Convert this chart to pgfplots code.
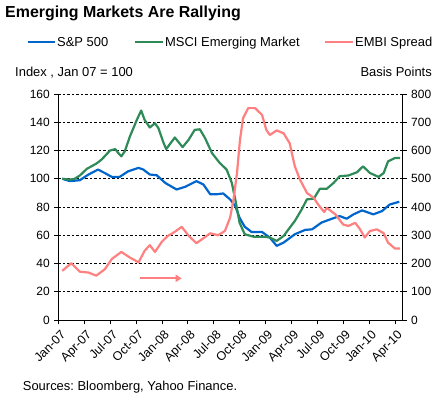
\documentclass[border=0pt]{standalone}
\usepackage{fontspec}
\setmainfont{Liberation Sans}
\usepackage{pgfplots}
\pgfplotsset{compat=1.18}
\usetikzlibrary{arrows.meta}
\definecolor{spblue}{RGB}{0,102,204}
\definecolor{msgreen}{RGB}{46,139,87}
\definecolor{embipink}{RGB}{255,128,128}
\begin{document}
\begin{tikzpicture}[x=1bp,y=1bp]
\useasboundingbox (0,0) rectangle (440,396);
\begin{axis}[
  at={(58.3bp,76bp)}, anchor=south west, scale only axis,
  width=344.4bp, height=226bp,
  xmin=0, xmax=39.9, ymin=0, ymax=160,
  ytick={0,20,...,160},
  xtick={0,3,...,39},
  xticklabels={Jan-07,Apr-07,Jul-07,Oct-07,Jan-08,Apr-08,Jul-08,Oct-08,Jan-09,Apr-09,Jul-09,Oct-09,Jan-10,Apr-10},
  axis x line*=bottom, axis y line*=left,
  ymajorgrids, grid style={black, dash pattern=on 2.5bp off 2bp, line width=0.6bp},
  tick align=outside, major tick length=4bp,
  tick style={black, line width=0.6bp},
  axis line style={black, line width=0.8bp},
  /pgf/number format/assume math mode=true,
  tick label style={font=\fontsize{12}{13}\selectfont},
  y tick label style={xshift=-1bp},
  x tick label style={rotate=45, anchor=north east, inner sep=1bp, xshift=-1.5bp, yshift=-4bp, font=\fontsize{12.5}{13}\selectfont},
  clip=false,
]
\addplot[spblue, line width=2.2bp, line join=round] coordinates {
(0.46,100) (1.35,98.3) (2.5,99) (3.5,103) (4.6,106.5) (5.4,104) (6.2,101.3) (7.1,101.3) (8.1,105.3) (9.3,107.7) (9.85,106.5) (10.6,103) (11.4,102.5) (12.4,97) (13.7,92.4) (14.7,94.3) (16.0,98.3) (16.8,96) (17.6,89) (18.3,89) (19.1,89.6) (19.9,85.4) (20.5,80.7) (21.0,72.4) (21.6,66) (22.4,62.3) (23.6,62.3) (24.5,58.4) (25.3,52.5) (26.1,54.8) (27.4,60.7) (28.6,63.8) (29.4,64.2) (30.5,69) (31.7,71.7) (32.6,73.6) (33.4,71.7) (34.2,74.8) (35.2,77.6) (36.5,74.8) (37.5,77.1) (38.4,81.8) (39.5,83.7)
};
\addplot[msgreen, line width=2.2bp, line join=round] coordinates {
(0.46,100) (1.35,99.4) (1.9,100) (2.5,102.3) (3.3,107) (4.4,110.7) (5.0,113.5) (6.0,120) (6.6,121) (6.95,118.2) (7.3,115.9) (7.7,119.4) (8.3,130) (9.1,141.7) (9.6,148.3) (10.0,141.7) (10.6,136.3) (11.2,139.3) (11.6,135.8) (12.2,125.3) (12.5,121) (13.5,129.2) (14.4,122.4) (15.1,127.6) (15.8,134.6) (16.4,135) (17.0,128.8) (17.8,118.2) (18.7,111.2) (19.5,106.5) (20.1,97.1) (20.5,85.4) (21.0,68.9) (21.6,60.7) (22.6,59) (23.8,59) (24.5,58.4) (25.3,56) (26.1,59.5) (27.4,70.1) (28.2,78.3) (28.8,85.4) (29.6,85.9) (30.3,92.9) (31.1,92.9) (31.9,97.1) (32.6,101.8) (33.6,102.3) (34.6,104.6) (35.3,108.8) (36.1,104.1) (37.1,101.3) (37.7,104.1) (38.2,112.3) (39.0,114.7) (39.6,114.7)
};
\draw[embipink, line width=2.2bp, -{Triangle[length=6bp,width=7bp]}] (axis cs:9.5,29.5) -- (axis cs:14.3,29.5);
\end{axis}
\begin{axis}[
  at={(58.3bp,76bp)}, anchor=south west, scale only axis,
  width=344.4bp, height=226bp,
  xmin=0, xmax=39.9, ymin=0, ymax=800,
  ytick={0,100,...,800},
  axis x line=none, axis y line*=right,
  tick align=outside, major tick length=4bp,
  tick style={black, line width=0.6bp},
  axis line style={black, line width=0.8bp},
  /pgf/number format/assume math mode=true,
  tick label style={font=\fontsize{12}{13}\selectfont},
  y tick label style={xshift=1bp},
  clip=false,
]
\addplot[embipink, line width=2.2bp, line join=round] coordinates {
(0.46,174) (1.5,201) (2.5,171) (3.5,168) (4.4,157) (5.4,180) (6.2,216) (7.3,241) (8.3,221) (9.3,204) (10.0,245) (10.6,265) (11.2,241) (12.0,277) (12.7,298) (13.4,310) (14.3,330) (15.1,298) (16.0,272) (16.8,289) (17.6,307) (18.5,300) (19.3,315) (19.9,362) (20.3,427) (20.7,520) (21.05,638) (21.4,714) (22.0,750) (22.8,750) (23.6,726) (24.1,673) (24.5,655) (25.3,671) (26.1,661) (26.8,626) (27.4,544) (28.0,497) (28.8,450) (29.6,432) (30.1,409) (30.8,382) (31.1,397) (32.1,374) (33.0,338) (33.6,333) (34.4,344) (34.96,321) (35.5,292) (36.1,315) (36.9,321) (37.7,307) (38.2,274) (39.0,253) (39.6,253)
};
\end{axis}
% title and annotations
\node[anchor=base west, inner sep=0, font=\fontsize{16}{18}\selectfont\bfseries] at (5,378.7) {Emerging Markets Are Rallying};
\draw[spblue, line width=2.2bp] (28,354) -- (55,354);
\node[anchor=base west, inner sep=0, font=\fontsize{13}{15}\selectfont] at (57,349.5) {S\&P 500};
\draw[msgreen, line width=2.2bp] (135,354) -- (163,354);
\node[anchor=base west, inner sep=0, font=\fontsize{13}{15}\selectfont] at (165,349.5) {MSCI Emerging Market};
\draw[embipink, line width=2.2bp] (325,354) -- (353,354);
\node[anchor=base west, inner sep=0, font=\fontsize{13}{15}\selectfont] at (355,349.5) {EMBI Spread};
\node[anchor=base west, inner sep=0, font=\fontsize{13}{15}\selectfont] at (15,320) {Index , Jan 07 = 100};
\node[anchor=base east, inner sep=0, font=\fontsize{13}{15}\selectfont] at (432,320) {Basis Points};
\node[anchor=base west, inner sep=0, font=\fontsize{13}{15}\selectfont] at (22.7,6) {Sources:\ Bloomberg, Yahoo Finance.};
\end{tikzpicture}
\end{document}
